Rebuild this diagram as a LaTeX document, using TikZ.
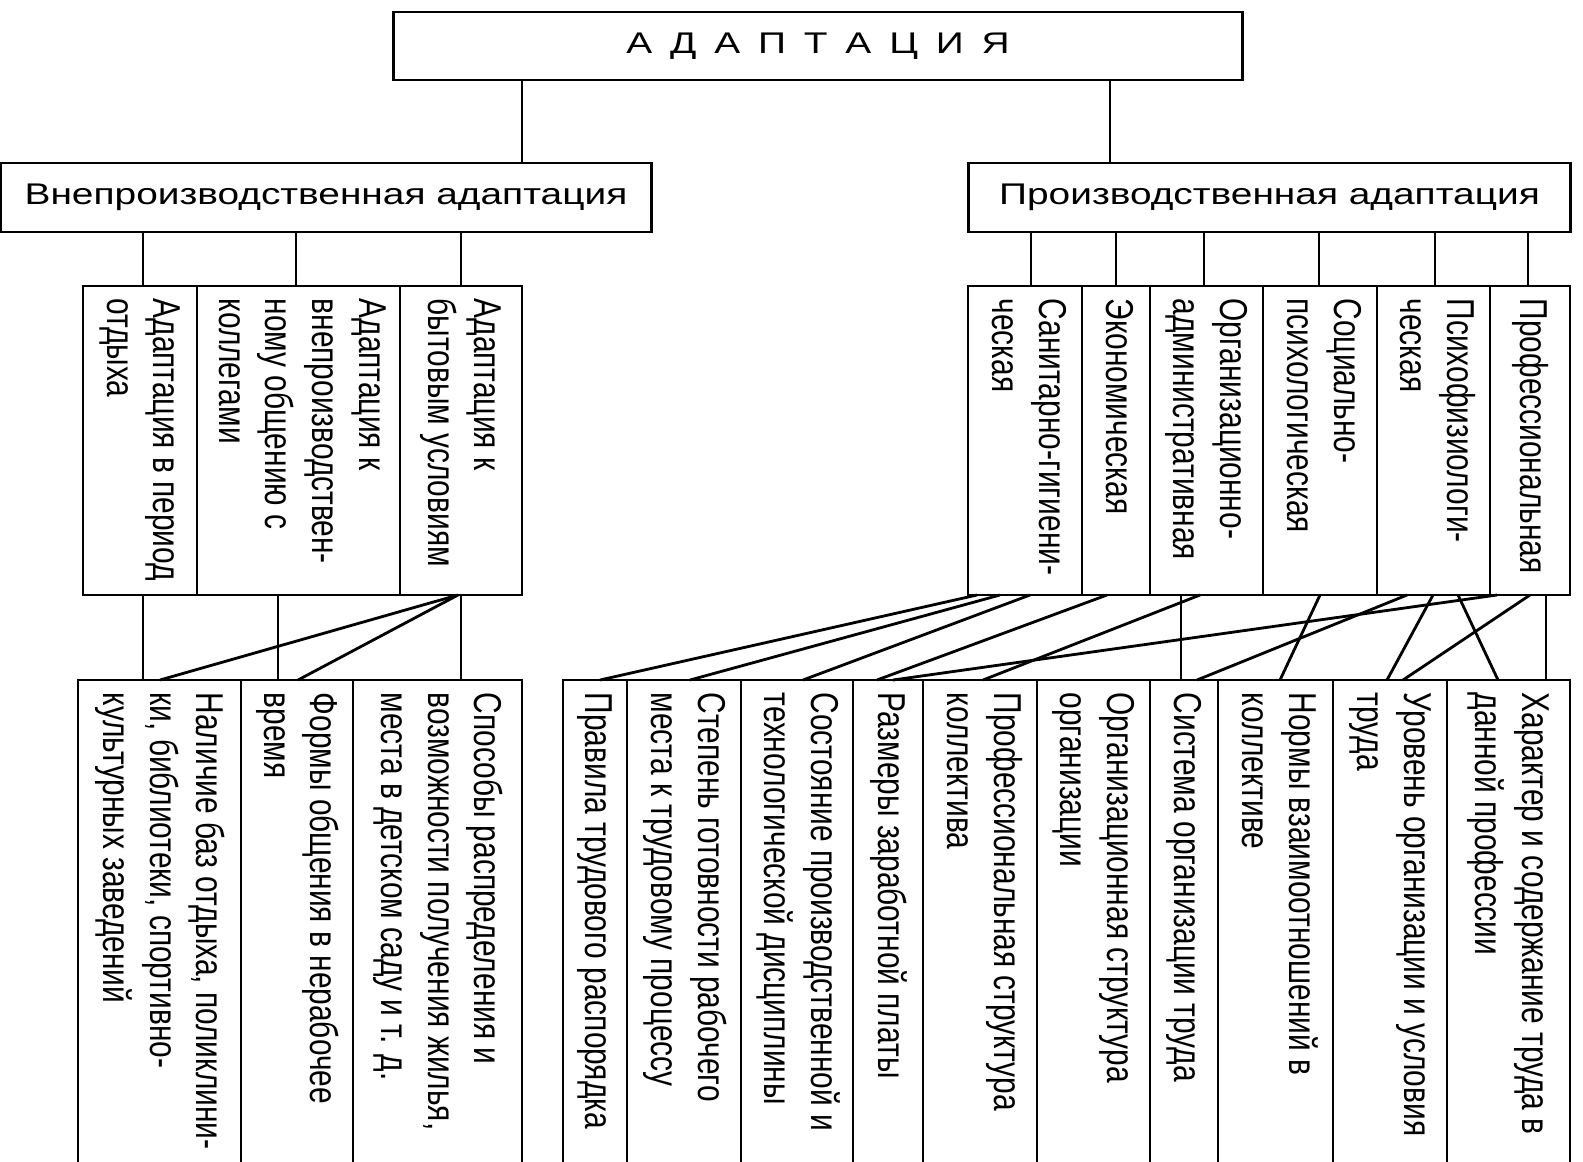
\documentclass[tikz,border=0pt]{standalone}
\usepackage{fontspec}
\setmainfont{Liberation Sans}
\usepackage{graphicx}
\usetikzlibrary{positioning}
\tikzset{
  boxcell/.style={draw=black, line width=0.8pt, inner sep=0pt, outer sep=0pt},
  htext/.style={font=\fontsize{8.5}{10.2}\selectfont},
  vtext/.style={inner sep=0pt, font=\fontsize{8.5}{10.2}\selectfont},
  link/.style={draw=black, line width=0.8pt}
}
% the scan is wider than it is tall, so every text is stretched sideways
\newcommand{\widen}[1]{\scalebox{1.3}[1]{#1}}
\newcommand{\vlabel}[1]{%
  \scalebox{1.3}[1]{\rotatebox{-90}{\begin{tabular}{@{}l@{}}#1\end{tabular}}}}
% box from (#2,#3) to (#4,#5), its text read from top to bottom
\newcommand{\cellbox}[6]{%
  \node[boxcell, minimum width={(#4-#2)*0.01cm},
        minimum height={(#5-#3)*0.01cm}]
    (#1) at ({(#2+#4)/2},{(#3+#5)/2}) {};
  \node[vtext, below=0.12cm of #1.north] (#1-t) {\vlabel{#6}};
}
\begin{document}
\begin{tikzpicture}[x=0.01cm,y=-0.01cm]
  \path[use as bounding box, fill=white] (0,0) rectangle (1583,1161);
  \clip (0,0) rectangle (1583,1161);

  % -------------------------------------------------------------------------
  % Upper two levels.
  \node[boxcell, htext, minimum width=8.48cm, minimum height=0.68cm]
    (adapt) at (818,46) {\widen{\spaceskip=0.46em А Д А П Т А Ц И Я}};
  \node[boxcell, htext, minimum width=6.50cm, minimum height=0.69cm]
    (vne) at (326,197.5) {\widen{Внепроизводственная адаптация}};
  \node[boxcell, htext, minimum width=6.01cm, minimum height=0.69cm]
    (proizv) at (1269.5,197.5) {\widen{Производственная адаптация}};

  % -------------------------------------------------------------------------
  % Kinds of adaptation.
  \cellbox{otd}{83}{286}{197}{595}{Адаптация в период\\отдыха}
  \cellbox{obsh}{197}{286}{400}{595}
    {Адаптация к\\внепроизводствен-\\ному общению с\\коллегами}
  \cellbox{byt}{400}{286}{522}{595}{Адаптация к\\бытовым условиям}
  \cellbox{san}{968}{286}{1082}{595}{Санитарно-гигиени-\\ческая}
  \cellbox{econ}{1082}{286}{1150}{595}{Экономическая}
  \cellbox{orgadm}{1150}{286}{1263}{595}{Организационно-\\административная}
  \cellbox{soc}{1263}{286}{1377}{595}{Социально-\\психологическая}
  \cellbox{psy}{1377}{286}{1490}{595}{Психофизиологи-\\ческая}
  \cellbox{prof}{1490}{286}{1570}{595}{Профессиональная}

  % -------------------------------------------------------------------------
  % Factors (the boxes run on below the page edge).
  \cellbox{nal}{78}{680}{241}{1200}
    {Наличие баз отдыха, поликлини-\\ки, библиотеки, спортивно-\\культурных заведений}
  \cellbox{form}{241}{680}{353}{1200}{Формы общения в нерабочее\\время}
  \cellbox{sposob}{353}{680}{522}{1200}
    {Способы распределения и\\возможности получения жилья,\\места в детском саду и т. д.}
  \cellbox{prav}{563}{680}{627}{1200}{Правила трудового распорядка}
  \cellbox{stepen}{627}{680}{741}{1200}
    {Степень готовности рабочего\\места к трудовому процессу}
  \cellbox{sost}{741}{680}{853}{1200}
    {Состояние производственной и\\технологической дисциплины}
  \cellbox{razm}{853}{680}{923}{1200}{Размеры заработной платы}
  \cellbox{profstr}{923}{680}{1037}{1200}{Профессиональная структура\\коллектива}
  \cellbox{orgstr}{1037}{680}{1150}{1200}{Организационная структура\\организации}
  \cellbox{sist}{1150}{680}{1218}{1200}{Система организации труда}
  \cellbox{normy}{1218}{680}{1333}{1200}{Нормы взаимоотношений в\\коллективе}
  \cellbox{urov}{1333}{680}{1447}{1200}{Уровень организации и условия\\труда}
  \cellbox{har}{1447}{680}{1570}{1200}
    {Характер и содержание труда в\\данной профессии}

  % -------------------------------------------------------------------------
  % Connectors.
  \draw[link] (adapt.south -| 522,0) -- (vne.north -| 522,0);
  \draw[link] (adapt.south -| 1110,0) -- (proizv.north -| 1110,0);
  \foreach \xs/\dst in {143/otd, 296/obsh, 461/byt}
    \draw[link] (vne.south -| \xs,0) -- (\dst.north -| \xs,0);
  \foreach \xs/\dst in {1031/san, 1116/econ, 1204/orgadm, 1319/soc,
                        1435/psy, 1528/prof}
    \draw[link] (proizv.south -| \xs,0) -- (\dst.north -| \xs,0);

  \foreach \src/\xs/\dst/\xd in {otd/143/nal/143, obsh/278/form/278,
      byt/461/sposob/461, byt/458/nal/160, byt/458/form/298,
      san/977/prav/600, san/1000/stepen/690, san/1030/sost/803,
      econ/1107/razm/877, prof/1497/razm/893, orgadm/1200/profstr/983,
      orgadm/1181/sist/1181, psy/1407/sist/1197, soc/1320/normy/1280,
      psy/1433/urov/1387, psy/1458/har/1498, prof/1530/urov/1403,
      prof/1546/har/1546}
    \draw[link] (\src.south -| \xs,0) -- (\dst.north -| \xd,0);
\end{tikzpicture}
\end{document}
